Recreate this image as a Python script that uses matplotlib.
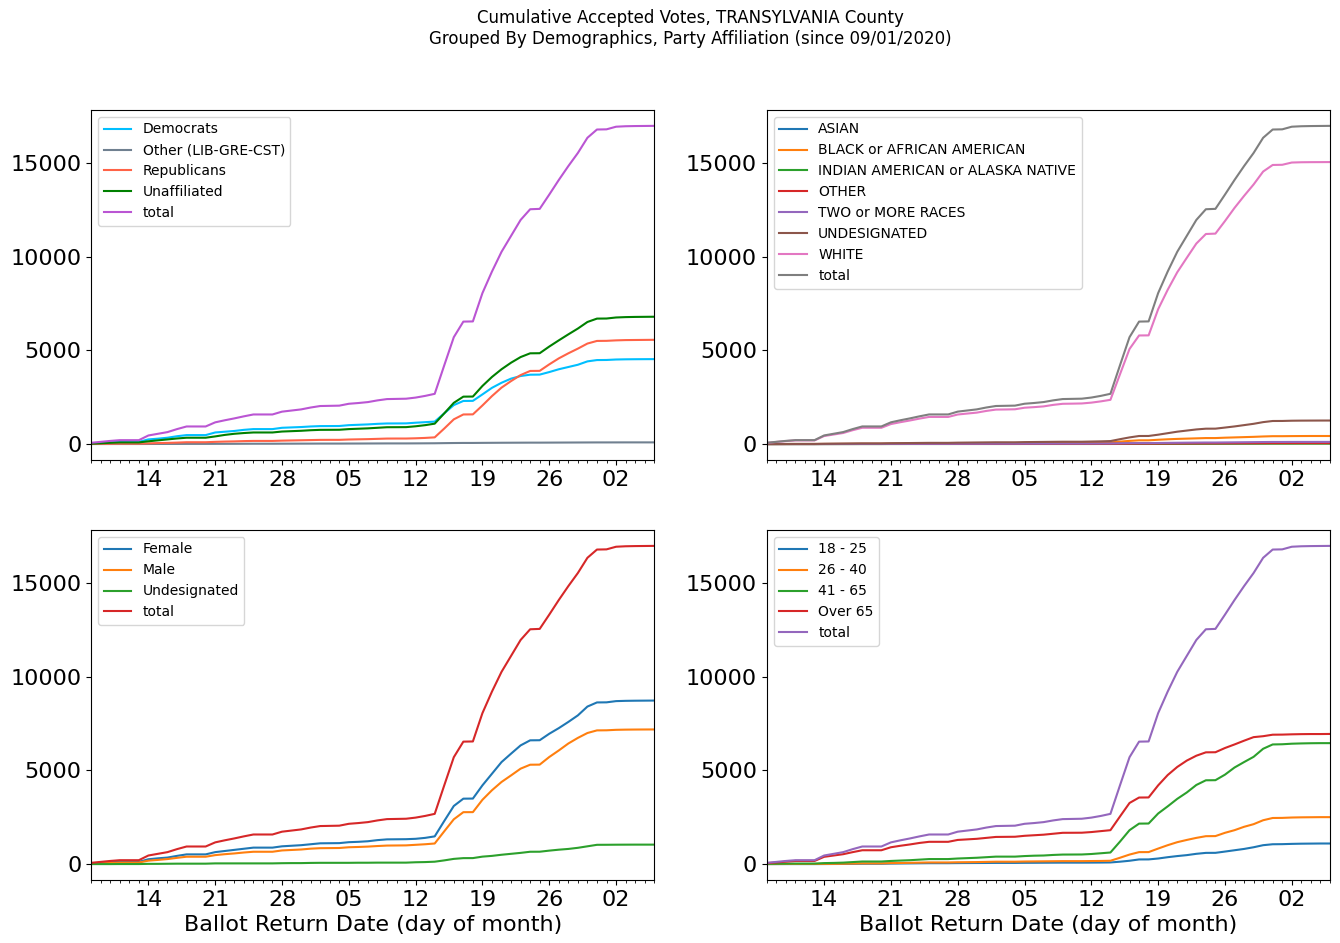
import pandas as pd
import matplotlib.pyplot as plt
import matplotlib.dates as mdates

# Daily dates of the cumulative counts
dates = pd.date_range('2020-09-08', '2020-11-06', freq='D')

# Total accepted votes (same in every panel)
total = [70, 120, 170, 210, 210, 210,
         460, 550, 640, 800, 940, 940, 940,
         1160, 1270, 1370, 1480, 1580, 1580, 1580,
         1730, 1790, 1850, 1950, 2030, 2040, 2050,
         2150, 2190, 2240, 2330, 2400, 2410, 2420,
         2480, 2570, 2680,
         4200, 5700, 6530, 6540,
         8050, 9200, 10250, 11100, 11950, 12520, 12540,
         13300, 14080, 14820, 15520, 16330, 16770, 16780,
         16920, 16945, 16955, 16960, 16965]

# Party affiliation
democrats = [30, 60, 95, 120, 120, 120,
             250, 290, 340, 420, 480, 480, 480,
             620, 660, 700, 760, 800, 800, 800,
             870, 890, 910, 940, 960, 962, 965,
             1010, 1030, 1050, 1080, 1100, 1102, 1105,
             1140, 1170, 1200,
             1640, 2080, 2300, 2305,
             2650, 3000, 3270, 3490, 3630, 3700, 3705,
             3840, 3990, 4110, 4230, 4410, 4480, 4485,
             4510, 4520, 4525, 4528, 4530]
other_party = [2, 3, 4, 5, 5, 5,
               7, 8, 9, 10, 12, 12, 12,
               14, 15, 16, 18, 20, 20, 20,
               22, 23, 25, 26, 28, 28, 28,
               30, 31, 33, 35, 37, 37, 37,
               39, 42, 45,
               52, 58, 62, 62,
               66, 69, 72, 74, 76, 78, 78,
               80, 82, 84, 86, 88, 90, 90,
               91, 92, 92, 92, 92]
republicans = [10, 15, 20, 25, 25, 25,
               40, 55, 65, 80, 100, 100, 100,
               120, 135, 145, 160, 170, 170, 170,
               185, 195, 205, 215, 225, 227, 227,
               245, 255, 265, 280, 295, 297, 297,
               310, 330, 360,
               830, 1320, 1580, 1585,
               2060, 2560, 3010, 3360, 3680, 3900, 3905,
               4250, 4570, 4840, 5090, 5360, 5500, 5505,
               5530, 5545, 5550, 5555, 5560]
unaffiliated = [20, 45, 70, 90, 90, 90,
                150, 200, 250, 300, 340, 340, 340,
                410, 490, 550, 590, 620, 620, 620,
                670, 690, 710, 740, 760, 762, 765,
                800, 820, 840, 870, 900, 902, 905,
                950, 1010, 1090,
                1640, 2200, 2530, 2535,
                3100, 3580, 3990, 4340, 4640, 4840, 4845,
                5200, 5530, 5850, 6160, 6510, 6690, 6695,
                6750, 6770, 6780, 6785, 6790]

# Race
asian = [0, 0, 1, 1, 1, 1,
         2, 3, 3, 4, 5, 5, 5,
         6, 7, 7, 8, 9, 9, 9,
         10, 10, 11, 12, 12, 12, 12,
         13, 14, 14, 15, 16, 16, 16,
         17, 18, 20,
         24, 28, 31, 31,
         35, 38, 41, 43, 45, 47, 47,
         49, 51, 53, 55, 57, 59, 59,
         60, 60, 60, 61, 61]
black = [1, 2, 3, 4, 4, 4,
         8, 10, 12, 15, 18, 18, 18,
         25, 28, 30, 33, 36, 36, 36,
         42, 45, 48, 50, 53, 53, 53,
         58, 60, 63, 66, 70, 70, 70,
         75, 82, 90,
         130, 170, 200, 200,
         230, 255, 275, 290, 305, 320, 320,
         340, 355, 370, 385, 405, 420, 420,
         425, 428, 430, 430, 430]
indian = [0, 0, 0, 0, 0, 0,
          1, 1, 1, 1, 1, 1, 1,
          2, 2, 2, 2, 2, 2, 2,
          3, 3, 3, 3, 3, 3, 3,
          4, 4, 4, 4, 4, 4, 4,
          4, 5, 5,
          6, 7, 8, 8,
          9, 10, 11, 12, 13, 14, 14,
          15, 16, 17, 17, 18, 19, 19,
          19, 20, 20, 20, 20]
other_race = [0, 0, 0, 1, 1, 1,
              2, 2, 3, 3, 4, 4, 4,
              5, 5, 6, 6, 7, 7, 7,
              8, 8, 8, 9, 9, 9, 9,
              10, 10, 11, 11, 12, 12, 12,
              12, 13, 14,
              17, 20, 22, 22,
              25, 28, 30, 32, 34, 36, 36,
              38, 40, 42, 44, 46, 48, 48,
              49, 49, 50, 50, 50]
two_more = [0, 1, 1, 2, 2, 2,
            4, 5, 6, 7, 8, 8, 8,
            10, 11, 12, 13, 14, 14, 14,
            16, 17, 18, 19, 20, 20, 20,
            22, 23, 24, 25, 26, 26, 26,
            28, 30, 32,
            40, 48, 52, 52,
            58, 64, 70, 75, 79, 83, 83,
            88, 93, 98, 103, 108, 112, 112,
            114, 115, 115, 116, 116]
undesig_race = [2, 4, 6, 8, 8, 8,
                15, 20, 25, 30, 35, 35, 35,
                45, 50, 55, 60, 65, 65, 65,
                75, 80, 85, 90, 95, 95, 95,
                105, 110, 115, 120, 125, 125, 125,
                135, 145, 160,
                260, 355, 430, 432,
                500, 580, 660, 720, 780, 820, 822,
                880, 940, 1010, 1080, 1170, 1230, 1232,
                1245, 1250, 1252, 1254, 1255]
white = [65, 113, 159, 194, 194, 194,
         428, 509, 590, 740, 869, 869, 869,
         1067, 1167, 1258, 1358, 1447, 1447, 1447,
         1576, 1627, 1677, 1767, 1838, 1845, 1855,
         1938, 1969, 2009, 2089, 2147, 2155, 2165,
         2209, 2277, 2359,
         3720, 5070, 5790, 5795,
         7190, 8225, 9160, 9930, 10690, 11200, 11220,
         11890, 12590, 13230, 13840, 14530, 14880, 14890,
         15010, 15025, 15030, 15032, 15035]

# Gender
female = [40, 70, 100, 120, 120, 120,
          260, 310, 350, 440, 520, 520, 520,
          640, 700, 760, 820, 880, 880, 880,
          950, 980, 1010, 1060, 1110, 1115, 1120,
          1170, 1190, 1220, 1280, 1320, 1325, 1330,
          1350, 1400, 1480,
          2300, 3100, 3490, 3495,
          4200, 4820, 5440, 5890, 6330, 6600, 6605,
          6950, 7250, 7580, 7930, 8400, 8620, 8625,
          8690, 8705, 8712, 8716, 8720]
male = [28, 48, 68, 85, 85, 85,
        185, 225, 270, 335, 395, 395, 395,
        480, 530, 570, 620, 660, 660, 660,
        730, 755, 780, 825, 850, 855, 860,
        900, 915, 935, 965, 990, 995, 1000,
        1030, 1060, 1100,
        1750, 2390, 2770, 2772,
        3430, 3940, 4380, 4730, 5090, 5300, 5305,
        5710, 6060, 6430, 6730, 6990, 7130, 7135,
        7160, 7170, 7175, 7178, 7180]
undesig_gender = [2, 2, 2, 5, 5, 5,
                  15, 15, 20, 25, 25, 25, 25,
                  40, 40, 40, 40, 40, 40, 40,
                  50, 55, 55, 65, 70, 70, 70,
                  70, 75, 75, 80, 80, 80, 80,
                  100, 110, 130,
                  200, 280, 320, 322,
                  400, 440, 500, 550, 600, 660, 662,
                  720, 770, 810, 870, 950, 1030, 1032,
                  1036, 1038, 1040, 1040, 1040]

# Age groups
age_18_25 = [2, 2, 3, 3, 3, 3,
             5, 8, 10, 15, 20, 20, 20,
             30, 35, 40, 45, 50, 50, 50,
             55, 58, 60, 62, 65, 65, 65,
             70, 72, 75, 78, 80, 80, 80,
             82, 85, 90,
             130, 180, 250, 252,
             300, 370, 430, 480, 550, 600, 602,
             670, 740, 810, 900, 1010, 1060, 1065,
             1080, 1090, 1095, 1100, 1100]
age_26_40 = [3, 6, 9, 10, 10, 10,
             12, 15, 20, 30, 40, 40, 40,
             55, 60, 70, 80, 90, 90, 90,
             100, 105, 110, 120, 130, 130, 130,
             140, 145, 150, 155, 160, 160, 160,
             165, 170, 180,
             340, 510, 640, 642,
             830, 1010, 1170, 1290, 1400, 1490, 1495,
             1670, 1810, 1990, 2130, 2340, 2460, 2465,
             2485, 2495, 2500, 2505, 2505]
age_41_65 = [15, 20, 25, 30, 30, 30,
             55, 65, 80, 110, 140, 140, 140,
             170, 190, 210, 240, 270, 270, 270,
             300, 320, 340, 370, 400, 400, 400,
             430, 450, 460, 490, 510, 512, 515,
             540, 580, 620,
             1200, 1810, 2160, 2165,
             2700, 3080, 3480, 3820, 4220, 4470, 4475,
             4770, 5150, 5440, 5720, 6150, 6380, 6390,
             6420, 6435, 6445, 6450, 6450]
age_over_65 = [50, 90, 130, 170, 170, 170,
               390, 460, 530, 640, 740, 740, 740,
               900, 980, 1050, 1130, 1190, 1190, 1190,
               1290, 1320, 1350, 1400, 1450, 1455, 1460,
               1510, 1540, 1570, 1620, 1670, 1672, 1675,
               1710, 1760, 1810,
               2540, 3260, 3550, 3555,
               4200, 4750, 5180, 5520, 5780, 5960, 5965,
               6190, 6380, 6580, 6770, 6820, 6900, 6905,
               6920, 6930, 6935, 6935, 6940]

party_df = pd.DataFrame({'Democrats': democrats, 'Other (LIB-GRE-CST)': other_party,
                         'Republicans': republicans, 'Unaffiliated': unaffiliated,
                         'total': total}, index=dates)
race_df = pd.DataFrame({'ASIAN': asian, 'BLACK or AFRICAN AMERICAN': black,
                        'INDIAN AMERICAN or ALASKA NATIVE': indian, 'OTHER': other_race,
                        'TWO or MORE RACES': two_more, 'UNDESIGNATED': undesig_race,
                        'WHITE': white, 'total': total}, index=dates)
gender_df = pd.DataFrame({'Female': female, 'Male': male,
                          'Undesignated': undesig_gender, 'total': total}, index=dates)
age_df = pd.DataFrame({'18 - 25': age_18_25, '26 - 40': age_26_40, '41 - 65': age_41_65,
                       'Over 65': age_over_65, 'total': total}, index=dates)

party_colors = ['#00bfff', '#708090', '#ff6347', 'green', '#ba55d3']

fig, axes = plt.subplots(2, 2, figsize=(13.4, 9.43), dpi=100)
fig.subplots_adjust(left=0.068, right=0.9925, top=0.8834, bottom=0.0668,
                    wspace=0.2, hspace=0.2)

panels = [(axes[0, 0], party_df, party_colors),
          (axes[0, 1], race_df, None),
          (axes[1, 0], gender_df, None),
          (axes[1, 1], age_df, None)]

for ax, df, colors in panels:
    for i, col in enumerate(df.columns):
        c = colors[i] if colors else 'C%d' % i
        ax.plot(df.index, df[col], color=c, label=col, linewidth=1.5)
    ax.set_xlim(dates[0], dates[-1])
    ax.xaxis.set_major_locator(mdates.WeekdayLocator(byweekday=mdates.MO))
    ax.xaxis.set_minor_locator(mdates.DayLocator())
    ax.xaxis.set_major_formatter(mdates.DateFormatter('%d'))
    ax.tick_params(axis='both', which='major', labelsize=16)
    ax.legend(loc='upper left', fontsize=10)

for ax in axes[1]:
    ax.set_xlabel('Ballot Return Date (day of month)', fontsize=16)

fig.suptitle('Cumulative Accepted Votes, TRANSYLVANIA County\n'
             'Grouped By Demographics, Party Affiliation (since 09/01/2020)',
             x=0.515, y=0.99, fontsize=12)

plt.savefig('out.png', dpi=100)
